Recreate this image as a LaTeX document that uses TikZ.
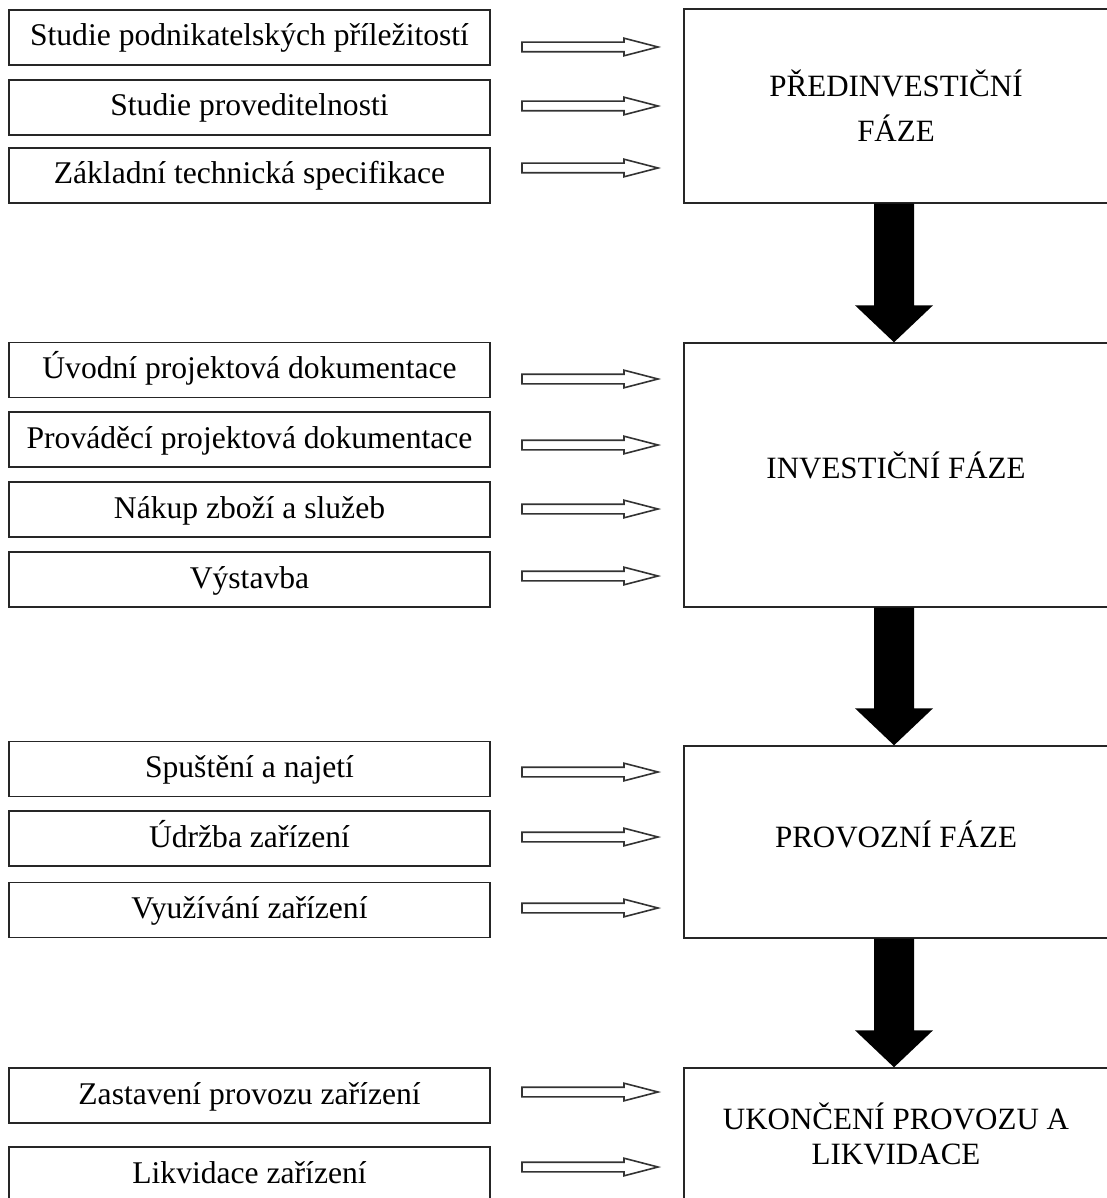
\documentclass[tikz,border=0pt]{standalone}
\usepackage{fontspec}
\setmainfont{Liberation Serif}
\usetikzlibrary{calc}
\newcommand\bigdown[2]{%
  \fill[black] let \p1=(#1.south), \p2=(#2.north) in
    (\x1-22pt,\y1) -- (\x1+18pt,\y1) -- (\x1+18pt,\y2+37pt) -- (\x1+37pt,\y2+37pt)
    -- (\x1-2pt,\y2) -- (\x1-41pt,\y2+37pt) -- (\x1-22pt,\y2+37pt) -- cycle;}
\begin{document}
\begin{tikzpicture}[x=1pt,y=-1pt,
  lbox/.style={draw=black!85, line width=1.4pt, minimum width=481pt, minimum height=55pt,
    inner sep=0pt, font=\fontsize{31.6}{38}\selectfont, text height=24pt, text depth=7pt},
  rbox/.style={draw=black!85, line width=1.4pt, minimum width=424pt, inner sep=0pt},
  rtext/.style={font=\fontsize{31}{45}\selectfont, align=center, anchor=base, inner sep=0pt},
  hollowarrow/.pic={\draw[black!80, line width=1.6pt, fill=white, line join=miter]
    (0,-4.8) -- (102,-4.8) -- (102,-8.8) -- (136,0) -- (102,8.8) -- (102,4.8) -- (0,4.8) -- cycle;}
]
\useasboundingbox (0,0) rectangle (1107,1198);

% left boxes
\node[lbox] (l1) at (249.5,37.5) {Studie podnikatelských příležitostí};
\node[lbox] (l2) at (249.5,107.5) {Studie proveditelnosti};
\node[lbox] (l3) at (249.5,175.5) {Základní technická specifikace};
\node[lbox] (l4) at (249.5,370) {Úvodní projektová dokumentace};
\node[lbox] (l5) at (249.5,439.5) {Prováděcí projektová dokumentace};
\node[lbox] (l6) at (249.5,509.5) {Nákup zboží a služeb};
\node[lbox] (l7) at (249.5,579.5) {Výstavba};
\node[lbox] (l8) at (249.5,769) {Spuštění a najetí};
\node[lbox] (l9) at (249.5,838.5) {Údržba zařízení};
\node[lbox] (l10) at (249.5,910) {Využívání zařízení};
\node[lbox] (l11) at (249.5,1095.5) {Zastavení provozu zařízení};
\node[lbox] (l12) at (249.5,1174.5) {Likvidace zařízení};

% right boxes
\node[rbox, minimum height=194pt] (r1) at (896,106) {};
\node[rbox, minimum height=264pt] (r2) at (896,475) {};
\node[rbox, minimum height=192pt] (r3) at (896,842) {};
\node[rbox, minimum height=172pt] (r4) at (896,1154) {};

\node[rtext] (t1) at (896,142) {PŘEDINVESTIČNÍ\\FÁZE};
\node[rtext] (t2) at (896,478) {INVESTIČNÍ FÁZE};
\node[rtext] (t3) at (896,847) {PROVOZNÍ FÁZE};
\node[rtext, font=\fontsize{31}{35}\selectfont] (t4) at (896,1164) {UKONČENÍ PROVOZU A\\LIKVIDACE};

% hollow arrows
\foreach \y in {47,106,168,379,445,509,576,772,837,908,1092,1167}
  \path (522,\y) pic {hollowarrow};

% big black arrows
\bigdown{r1}{r2}
\bigdown{r2}{r3}
\bigdown{r3}{r4}
\end{tikzpicture}
\end{document}
